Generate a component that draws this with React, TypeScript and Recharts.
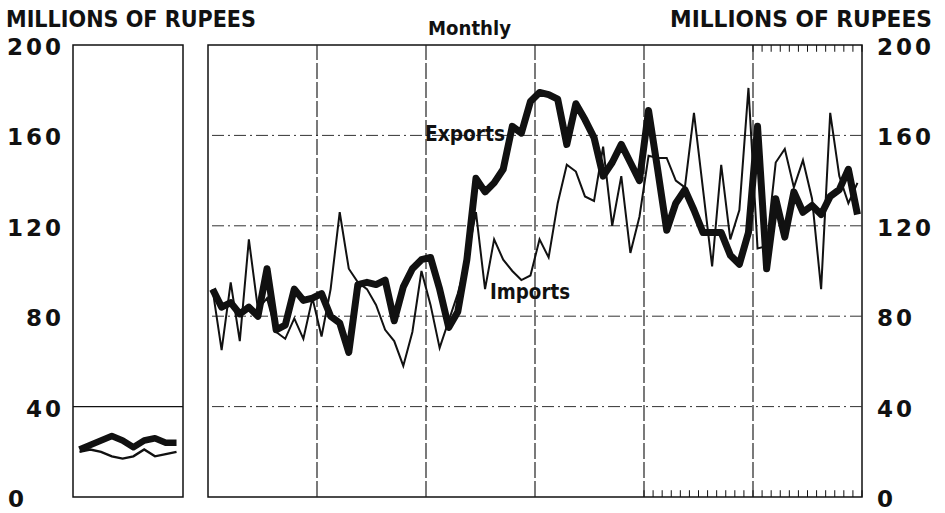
import {
  LineChart,
  Line,
  XAxis,
  YAxis,
  ReferenceLine,
  ReferenceArea,
} from "recharts";

// pre-war panel (left), millions of rupees
const prewarExports = [21, 23, 25, 27, 25, 22, 25, 26, 24, 24];
const prewarImports = [20, 21, 20, 18, 17, 18, 21, 18, 19, 20];

// six years of monthly figures, millions of rupees
const monthlyExports = [
  92, 84, 86, 81, 84, 80, 101, 74, 76, 92, 87, 88,
  90, 80, 77, 64, 94, 95, 94, 96, 78, 93, 101, 105,
  106, 92, 75, 82, 105, 141, 135, 139, 145, 164, 161, 175,
  179, 178, 176, 156, 174, 167, 159, 142, 148, 156, 148, 140,
  171, 145, 118, 130, 136, 127, 117, 117, 117, 107, 103, 117,
  164, 101, 132, 115, 135, 126, 129, 125, 133, 136, 145, 125,
];
const monthlyImports = [
  92, 65, 95, 69, 114, 83, 88, 73, 70, 79, 70, 88,
  71, 92, 126, 101, 95, 92, 85, 74, 69, 58, 73, 100,
  85, 66, 78, 90, 105, 126, 92, 114, 105, 100, 96, 98,
  114, 106, 130, 147, 144, 133, 131, 155, 120, 142, 108, 124,
  151, 150, 150, 140, 137, 170, 136, 102, 147, 114, 127, 181,
  110, 111, 148, 154, 137, 149, 132, 92, 170, 142, 130, 139,
];

const yTicks = [0, 40, 80, 120, 160, 200];
const valueGrid = [40, 80, 120, 160];
const yearBreaks = [12, 24, 36, 48, 60];
const bottomTicks = Array.from({ length: 25 }, (_, i) => 48 + i);
const topTicks = Array.from({ length: 13 }, (_, i) => 60 + i);

const prewar = prewarExports.map((v, i) => ({
  x: i,
  exports: v,
  imports: prewarImports[i],
}));
const monthly = monthlyExports.map((v, i) => ({
  x: i + 0.5,
  exports: v,
  imports: monthlyImports[i],
}));

const INK = "#111";
const tickFont = {
  fontFamily: "DejaVu Sans",
  fontWeight: 700,
  fontSize: 23,
  letterSpacing: 3,
  fill: INK,
};

function LeftTick({ y, payload }: any) {
  const zero = payload.value === 0;
  return (
    <text
      x={zero ? 8 : 64}
      y={y + 2}
      textAnchor={zero ? "start" : "end"}
      dominantBaseline="central"
      {...tickFont}
    >
      {payload.value}
    </text>
  );
}

function RightTick({ y, payload }: any) {
  return (
    <text x={877} y={y + 2} textAnchor="start" dominantBaseline="central" {...tickFont}>
      {payload.value}
    </text>
  );
}

const W = 945;
const H = 513;
const layer = { position: "absolute" as const, left: 0, top: 0 };

export default function App() {
  return (
    <div style={{ position: "relative", width: W, height: H, background: "#fff" }}>
      <style>{"body{margin:0}"}</style>

      <div style={layer}>
        <LineChart
          width={W}
          height={H}
          data={prewar}
          margin={{ top: 45, bottom: 16, left: 0, right: W - 183 }}
        >
          <XAxis dataKey="x" type="number" domain={[-0.6, 9.6]} hide />
          <YAxis
            domain={[0, 200]}
            ticks={yTicks}
            width={73}
            axisLine={false}
            tickLine={false}
            tick={<LeftTick />}
          />
          <ReferenceArea
            x1={-0.6}
            x2={9.6}
            y1={0}
            y2={200}
            fill="none"
            stroke={INK}
            strokeWidth={1.5}
          />
          <ReferenceLine y={40} stroke={INK} strokeWidth={1.2} />
          <Line
            dataKey="imports"
            stroke={INK}
            strokeWidth={2.4}
            dot={false}
            isAnimationActive={false}
          />
          <Line
            dataKey="exports"
            stroke={INK}
            strokeWidth={6.5}
            dot={false}
            strokeLinejoin="round"
            isAnimationActive={false}
          />
        </LineChart>
      </div>

      <div style={layer}>
        <LineChart
          width={W}
          height={H}
          data={monthly}
          margin={{ top: 45, bottom: 16, left: 208, right: 0 }}
        >
          <XAxis dataKey="x" type="number" domain={[0, 72]} hide />
          <YAxis
            orientation="right"
            domain={[0, 200]}
            ticks={yTicks}
            width={83}
            axisLine={false}
            tickLine={false}
            tick={<RightTick />}
          />
          <ReferenceArea
            x1={0}
            x2={72}
            y1={0}
            y2={200}
            fill="none"
            stroke={INK}
            strokeWidth={1.5}
          />
          {valueGrid.map((v) => (
            <ReferenceLine
              key={"h" + v}
              y={v}
              stroke="#333"
              strokeWidth={1}
              strokeDasharray="12 4 2 4"
            />
          ))}
          {yearBreaks.map((m) => (
            <ReferenceLine
              key={"v" + m}
              x={m}
              stroke="#222"
              strokeWidth={1.2}
              strokeDasharray="16 3"
            />
          ))}
          {bottomTicks.map((m) => (
            <ReferenceLine
              key={"b" + m}
              segment={[
                { x: m, y: 0 },
                { x: m, y: 3 },
              ]}
              stroke={INK}
              strokeWidth={1}
            />
          ))}
          {topTicks.map((m) => (
            <ReferenceLine
              key={"t" + m}
              segment={[
                { x: m, y: 200 },
                { x: m, y: 197 },
              ]}
              stroke={INK}
              strokeWidth={1}
            />
          ))}
          <Line
            dataKey="imports"
            stroke={INK}
            strokeWidth={2}
            dot={false}
            isAnimationActive={false}
          />
          <Line
            dataKey="exports"
            stroke={INK}
            strokeWidth={7}
            dot={false}
            strokeLinejoin="round"
            isAnimationActive={false}
          />
        </LineChart>
      </div>

      <svg style={{ ...layer, pointerEvents: "none" }} width={W} height={H}>
        <g fontFamily="DejaVu Sans Condensed" fontWeight={700} fill={INK}>
          <text x={6} y={27} fontSize={23} textLength={250} lengthAdjust="spacingAndGlyphs">
            MILLIONS OF RUPEES
          </text>
          <text x={670} y={27} fontSize={23} textLength={262} lengthAdjust="spacingAndGlyphs">
            MILLIONS OF RUPEES
          </text>
          <text x={428} y={35} fontSize={20} textLength={83} lengthAdjust="spacingAndGlyphs">
            Monthly
          </text>
          <text x={425} y={141} fontSize={22} textLength={80} lengthAdjust="spacingAndGlyphs">
            Exports
          </text>
          <text x={490} y={299} fontSize={22} textLength={80} lengthAdjust="spacingAndGlyphs">
            Imports
          </text>
        </g>
      </svg>
    </div>
  );
}
